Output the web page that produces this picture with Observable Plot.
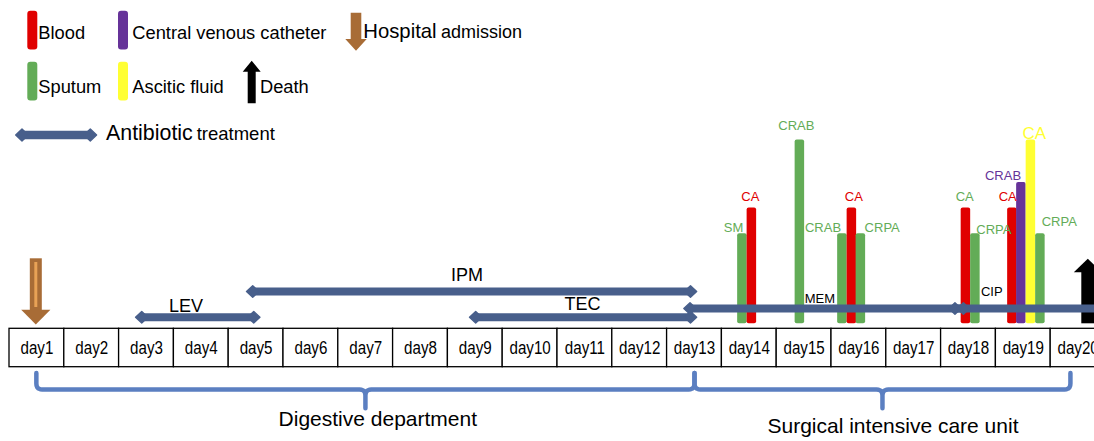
<!DOCTYPE html>
<html>
<head>
<meta charset="utf-8">
<script src="https://cdn.jsdelivr.net/npm/d3@7"></script>
<script src="https://cdn.jsdelivr.net/npm/@observablehq/plot@0.6"></script>
<style>
  html, body { margin: 0; padding: 0; overflow: hidden; background: #fff; }
  #wrap { position: relative; width: 1094px; height: 441px; }
  #chart, #legend { position: absolute; left: 0; top: 0; }
  #legend text { font-family: "Liberation Sans", Arial, sans-serif; fill: #000; }
</style>
</head>
<body>
<div id="wrap">
  <div id="chart"></div>
  <svg id="legend" width="560" height="160"></svg>
</div>
<script>
// ---------------- data ----------------
const days = d3.range(1, 21);                       // day1 … day20
const sources = ["Blood", "Central venous catheter", "Sputum", "Ascitic fluid"];
const sourceColors = ["#e00000", "#663399", "#63ac57", "#ffff33"];

// isolates (bars): position on the day axis, bar height, specimen source
const isoPos    = [13.874, 14.047, 14.923, 15.699, 15.872, 16.036, 17.953, 18.126, 18.801, 18.965, 19.139, 19.312];
const isoHeight = [3.5, 4.5, 7.15, 3.5, 4.5, 3.5, 4.5, 3.5, 4.5, 5.5, 7.15, 3.5];
const isoSource = ["Sputum", "Blood", "Sputum", "Sputum", "Blood", "Sputum", "Blood", "Sputum", "Blood", "Central venous catheter", "Ascitic fluid", "Sputum"];

// organism labels
const orgText   = ["SM", "CA", "CRAB", "CRAB", "CA", "CRPA", "CA", "CRPA", "CA", "CRAB", "CA", "CRPA"];
const orgSource = ["Sputum", "Blood", "Sputum", "Sputum", "Blood", "Sputum", "Sputum", "Sputum", "Blood", "Central venous catheter", "Ascitic fluid", "Sputum"];
const orgX      = [13.712, 14.018, 14.858, 15.345, 15.907, 16.425, 17.931, 18.462, 18.715, 18.630, 19.199, 19.657];
const orgY      = [3.738, 4.924, 7.713, 3.738, 4.924, 3.726, 4.924, 3.660, 4.924, 5.737, 7.408, 3.948];

// antibiotic treatments
const abxNames  = ["LEV", "IPM", "TEC", "MEM", "CIP"];
const abxStart  = [2.80, 4.825, 8.894, 12.805, 17.64];
const abxEnd    = [5.07, 13.04, 13.04, 18.02, 21.0];
const abxLevel  = [0.257, 1.256, 0.257, 0.595, 0.595];
const abxLabelX = [3.721, 8.849, 10.956, 15.287, 18.425];
const abxLabelY = [0.700, 1.871, 0.743, 0.984, 1.225];

// wards
const wardNames  = ["Digestive department", "Surgical intensive care unit"];
const wardStart  = [0.99, 13.0];
const wardEnd    = [13.0, 19.86];
const wardLabelX = [7.221, 16.622];
const wardLabelY = [-3.695, -3.998];

// events
const eventNames = ["Hospital admission", "Death"];
const eventDay   = [0.98, 20.177];

// ---------------- build tables ----------------
const isolates = isoPos.map((p, i) => ({pos: p, height: isoHeight[i], source: isoSource[i]}));
const orgLabels = orgText.map((t, i) => ({text: t, source: orgSource[i], x: orgX[i], y: orgY[i]}));
const abx = abxNames.map((n, i) => ({name: n, start: abxStart[i], end: abxEnd[i], level: abxLevel[i], lx: abxLabelX[i], ly: abxLabelY[i]}));
const wards = wardNames.map((n, i) => ({name: n, start: wardStart[i], end: wardEnd[i], lx: wardLabelX[i], ly: wardLabelY[i]}));
const events = eventNames.map((n, i) => ({name: n, day: eventDay[i]}));

// ---------------- layout helpers ----------------
const W = 1094, H = 441;
const DAYPX = 54.8, DAY1 = 36.4;        // pixel width of a day, centre of day1
const UNIT = 25.71, BASE = 323.3;       // pixels per bar unit, bar baseline row
const v = py => (BASE - py) / UNIT;     // pixel row -> y value
const X0 = 1 - DAY1 / DAYPX, X1 = 1 + (W - DAY1) / DAYPX;
const Y0 = v(H), Y1 = v(0);

const ABX = "#485f8b", BROWN = "#a86c36", BRACE = "#5b7fc1";
const BARHALF = 4.75 / DAYPX;

// braces
const rx = 6 / DAYPX, ry = 6 / UNIT;
const bTop = v(372.5), bH = v(389), bTip = v(407.7);
function corner(p1, c, p2, out) {
  for (const t of [0.2, 0.4, 0.6, 0.8]) {
    out.push([(1 - t) * (1 - t) * p1[0] + 2 * (1 - t) * t * c[0] + t * t * p2[0],
              (1 - t) * (1 - t) * p1[1] + 2 * (1 - t) * t * c[1] + t * t * p2[1]]);
  }
}
const bracePts = [];
for (const w of wards) {
  const a = w.start, b = w.end, m = (a + b) / 2;
  const pts = [[a, bTop], [a, bH + ry]];
  corner([a, bH + ry], [a, bH], [a + rx, bH], pts);
  pts.push([a + rx, bH], [m - rx, bH]);
  corner([m - rx, bH], [m, bH], [m, bH - ry], pts);
  pts.push([m, bH - ry], [m, bTip], [m, bH - ry]);
  corner([m, bH - ry], [m, bH], [m + rx, bH], pts);
  pts.push([m + rx, bH], [b - rx, bH]);
  corner([b - rx, bH], [b, bH], [b, bH + ry], pts);
  pts.push([b, bH + ry], [b, bTop]);
  pts.forEach(p => bracePts.push({ward: w.name, x: p[0], y: p[1]}));
}

// custom symbols (origin at the tip)
const headLeft  = {draw(ctx) { ctx.moveTo(0, 0); ctx.lineTo(6.2, -5.8); ctx.lineTo(12.4, 0); ctx.lineTo(6.2, 5.8); ctx.closePath(); }};
const headRight = {draw(ctx) { ctx.moveTo(0, 0); ctx.lineTo(-6.2, -5.8); ctx.lineTo(-12.4, 0); ctx.lineTo(-6.2, 5.8); ctx.closePath(); }};
const triDown   = {draw(ctx) { ctx.moveTo(0, 0); ctx.lineTo(-14.6, -14.7); ctx.lineTo(14.6, -14.7); ctx.closePath(); }};
const triUp     = {draw(ctx) { ctx.moveTo(0, 0); ctx.lineTo(14, 13.4); ctx.lineTo(-14, 13.4); ctx.closePath(); }};

const admission = events.filter(e => e.name === "Hospital admission");
const death = events.filter(e => e.name === "Death");
const small = new Set(["MEM", "CIP"]);

const chart = Plot.plot({
  width: W, height: H, margin: 0,
  style: {fontFamily: "Liberation Sans, Arial, sans-serif", background: "white", color: "black"},
  x: {domain: [X0, X1], axis: null},
  y: {domain: [Y0, Y1], axis: null},
  color: {domain: sources, range: sourceColors},
  marks: [
    // day boxes
    Plot.rect(days, {x1: d => d - 0.5, x2: d => d + 0.5, y1: v(328.3), y2: v(366.7), fill: "white", stroke: "black", strokeWidth: 1.3}),
    Plot.text(days, {x: d => d, y: v(347.2), text: d => "day" + d, fontSize: 18.5, fill: "black"}),
    // ward braces + labels
    Plot.line(bracePts, {x: "x", y: "y", z: "ward", stroke: BRACE, strokeWidth: 4.5, strokeLinejoin: "round", strokeLinecap: "round"}),
    Plot.text(wards, {x: "lx", y: "ly", text: "name", fontSize: 21, fill: "black"}),
    // isolate bars
    Plot.rect(isolates, {x1: d => d.pos - BARHALF, x2: d => d.pos + BARHALF, y1: 0, y2: "height", fill: "source", rx: 2}),
    Plot.text(orgLabels, {filter: d => d.source !== "Ascitic fluid", x: "x", y: "y", text: "text", fill: "source", fontSize: 13}),
    Plot.text(orgLabels, {filter: d => d.source === "Ascitic fluid", x: "x", y: "y", text: "text", fill: "source", fontSize: 17}),
    // hospital admission arrow
    Plot.ruleX(admission, {x: "day", y1: v(258.3), y2: v(310), stroke: BROWN, strokeWidth: 12}),
    Plot.ruleX(admission, {x: "day", y1: v(262), y2: v(307), stroke: "#e8a256", strokeWidth: 3}),
    Plot.dot(admission, {x: "day", y: v(324), symbol: triDown, fill: BROWN}),
    // death arrow
    Plot.ruleX(death, {x: "day", y1: 0, y2: v(271.2), stroke: "black", strokeWidth: 13}),
    Plot.dot(death, {x: "day", y: v(258.3), symbol: triUp, fill: "black"}),
    // antibiotic treatments
    Plot.ruleY(abx, {y: "level", x1: d => d.start + 0.1, x2: d => d.end - 0.1, stroke: ABX, strokeWidth: 8}),
    Plot.dot(abx, {x: "start", y: "level", symbol: headLeft, fill: ABX, stroke: ABX, strokeWidth: 1.4, strokeLinejoin: "round"}),
    Plot.dot(abx, {x: "end", y: "level", symbol: headRight, fill: ABX, stroke: ABX, strokeWidth: 1.4, strokeLinejoin: "round"}),
    Plot.text(abx, {filter: d => !small.has(d.name), x: "lx", y: "ly", text: "name", fontSize: 18, fill: "black"}),
    Plot.text(abx, {filter: d => small.has(d.name), x: "lx", y: "ly", text: "name", fontSize: 13, fill: "black"})
  ]
});
document.getElementById("chart").appendChild(chart);

// condensed day labels (horizontal squeeze around each label's anchor)
d3.select(chart).selectAll("text").each(function () {
  if (!/^day\d+$/.test(this.textContent)) return;
  const t = this.getAttribute("transform") || "";
  const x = +this.getAttribute("x") || 0, y = +this.getAttribute("y") || 0;
  if (x || y) this.setAttribute("transform", `${t} translate(${x},${y}) scale(0.82,1) translate(${-x},${-y})`);
  else this.setAttribute("transform", `${t} scale(0.82,1)`);
});

// ---------------- legend ----------------
const lg = d3.select("#legend");
const colorOf = s => sourceColors[sources.indexOf(s)];
const swatches = [
  {s: "Blood", x: 27.3, y: 10.7, tx: 38.3, ty: 39.3},
  {s: "Central venous catheter", x: 118, y: 10.7, tx: 132.3, ty: 39.3},
  {s: "Sputum", x: 27.3, y: 61.7, tx: 38.3, ty: 92.7},
  {s: "Ascitic fluid", x: 118, y: 61.7, tx: 132.3, ty: 92.7}
];
for (const w of swatches) {
  lg.append("rect").attr("x", w.x).attr("y", w.y).attr("width", 10).attr("height", 38.8).attr("rx", 3).attr("fill", colorOf(w.s));
  lg.append("text").attr("x", w.tx).attr("y", w.ty).attr("font-size", 18.3).text(w.s);
}
// hospital admission
lg.append("path").attr("fill", BROWN)
  .attr("d", "M350.7,12.7 H361.3 V39 H366.7 L356,50.7 L345.3,39 H350.7 Z");
lg.append("text").attr("x", 363.3).attr("y", 38.3).attr("font-size", 20.3).text("Hospital");
lg.append("text").attr("x", 441).attr("y", 38.3).attr("font-size", 18).text("admission");
// death
lg.append("path").attr("fill", "black")
  .attr("d", "M251.7,60.7 L260.7,71.7 H255.7 V103.3 H247.7 V71.7 H242.7 Z");
lg.append("text").attr("x", 260).attr("y", 92.7).attr("font-size", 18.3).text("Death");
// antibiotic treatment
lg.append("line").attr("x1", 22).attr("x2", 90).attr("y1", 135).attr("y2", 135).attr("stroke", ABX).attr("stroke-width", 8.5);
lg.append("path").attr("fill", ABX).attr("stroke", ABX).attr("stroke-width", 1.4).attr("stroke-linejoin", "round")
  .attr("d", "M15.7,135 L22,129 L28.3,135 L22,141 Z M96.6,135 L90.3,129 L84,135 L90.3,141 Z");
lg.append("text").attr("x", 106).attr("y", 140).attr("font-size", 21.4).text("Antibiotic");
lg.append("text").attr("x", 196.7).attr("y", 140).attr("font-size", 18.5).text("treatment");
</script>
</body>
</html>
